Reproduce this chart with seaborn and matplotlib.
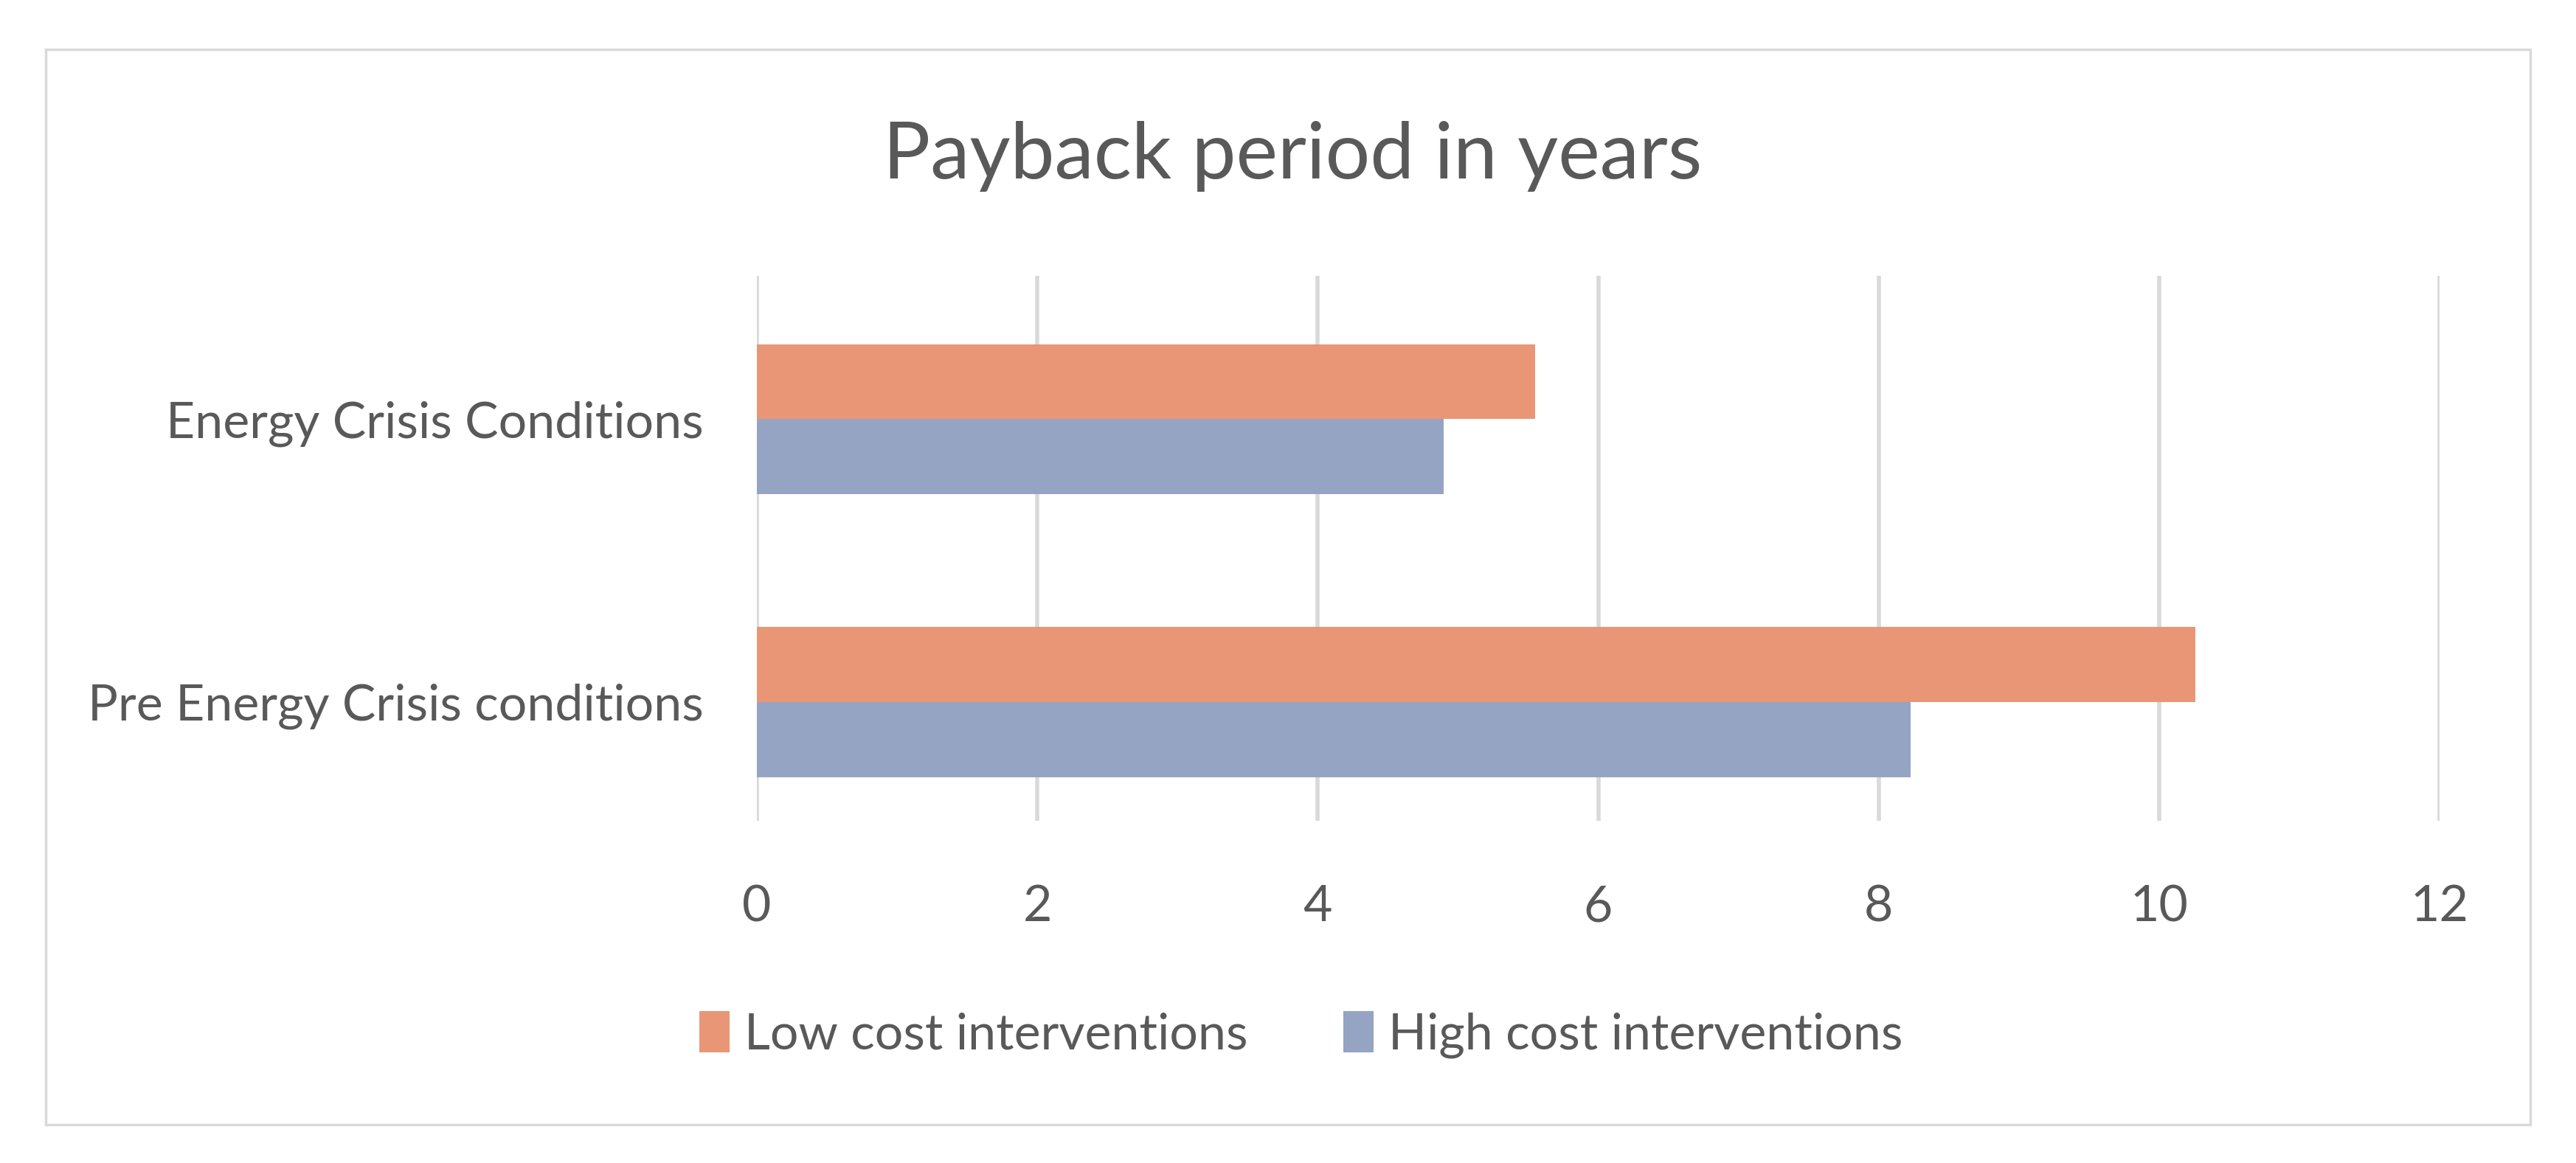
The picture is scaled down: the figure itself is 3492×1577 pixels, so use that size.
import matplotlib
matplotlib.use("Agg")
import matplotlib.pyplot as plt
import matplotlib.patches as mpatches
import seaborn as sns
import pandas as pd

categories = ["Energy Crisis Conditions", "Pre Energy Crisis conditions"]
series_names = ["Low cost interventions", "High cost interventions"]
low_cost = [5.55, 10.26]
high_cost = [4.90, 8.23]
x_ticks = [0, 2, 4, 6, 8, 10, 12]
title = "Payback period in years"

colors = ["#E99676", "#95A4C2"]
text_color = "#595959"
grid_color = "#D9D9D9"

df = pd.DataFrame({
    "category": categories * 2,
    "series": [series_names[0]] * 2 + [series_names[1]] * 2,
    "value": low_cost + high_cost,
})

sns.set_theme(style="white")
plt.rcParams["font.family"] = ["Lato", "DejaVu Sans"]

W, H = 3492, 1577
fig = plt.figure(figsize=(W / 100, H / 100), dpi=100)
fig.patch.set_facecolor("white")

# outer chart border
fig.patches.append(mpatches.Rectangle((62 / W, 1 - 1525 / H), (3430 - 62) / W, (1525 - 67) / H,
                                      transform=fig.transFigure, fill=False,
                                      edgecolor=grid_color, linewidth=2.5))

ax = fig.add_axes([1026 / W, 1 - 1113 / H, (3307 - 1026) / W, (1113 - 374) / H])
sns.barplot(data=df, y="category", x="value", hue="series", order=categories,
            hue_order=series_names, palette=colors, orient="h", width=0.53,
            saturation=1, ax=ax, legend=False, linewidth=0)

ax.set_xlim(0, 12)
ax.set_ylim(1.42, -0.507)
ax.set_xticks(x_ticks)
ax.set_xticklabels([str(t) for t in x_ticks])
ax.xaxis.grid(True, color=grid_color, linewidth=4)
ax.set_axisbelow(True)
for s in ax.spines.values():
    s.set_visible(False)
ax.set_xlabel("")
ax.set_ylabel("")
ax.tick_params(axis="x", length=0, pad=62, labelsize=49, labelcolor=text_color)
ax.tick_params(axis="y", length=0, pad=52, labelsize=49, labelcolor=text_color)

fig.text(1752 / W, 1 - 212 / H, title, ha="center", va="center",
         fontsize=77, color=text_color)

handles = [mpatches.Patch(facecolor=c, edgecolor="none", label=n) for c, n in zip(colors, series_names)]
leg = fig.legend(handles=handles, loc="center", bbox_to_anchor=(1764 / W, 1 - 1403 / H),
                 ncol=2, frameon=False, fontsize=49, handlelength=0.6, handleheight=0.9,
                 handletextpad=0.3, columnspacing=1.9)
for t in leg.get_texts():
    t.set_color(text_color)

fig.savefig("out.png", dpi=100, facecolor="white")
